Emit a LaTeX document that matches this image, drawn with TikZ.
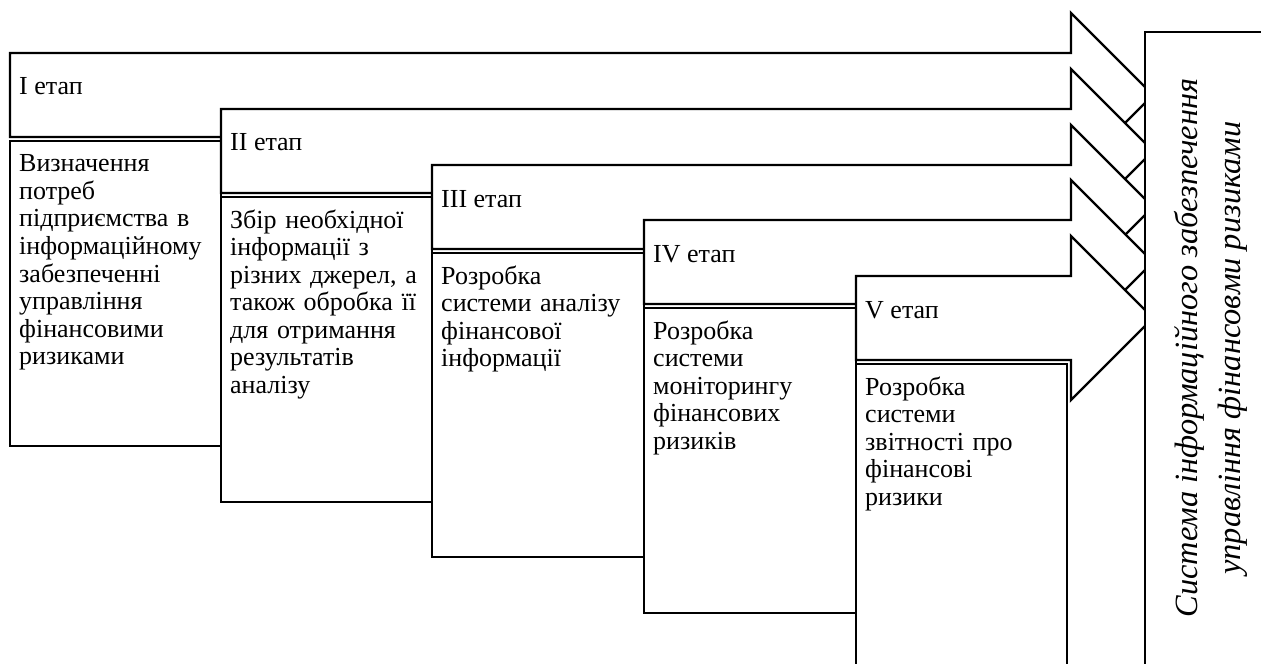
\documentclass[tikz,border=0pt]{standalone}
\usepackage{fontspec}
\setmainfont{Liberation Serif}
\begin{document}
\begin{tikzpicture}[x=0.5pt, y=-0.5pt, line width=1.2pt, line join=miter,
  every node/.style={inner sep=0pt, font=\fontsize{13}{13.75}\selectfont},
  stagearrow/.style={draw, fill=white},
  stagebox/.style={draw, fill=white},
  stagelabel/.style={anchor=base west},
  stagetext/.style={anchor=base west, text width=104pt, align=left}]
 \useasboundingbox (0,0) rectangle (1261,663);
 \clip (0,0) rectangle (1261,663);
 % I etap
 \draw[stagearrow] (10,53) -- (1071,53) -- (1071,13) -- (1153,95) -- (1071,177) -- (1071,137) -- (10,137) -- cycle;
 \draw[stagebox] (10,141) rectangle (221,446);
 \node[stagelabel] (l1) at (18,95) {I етап};
 \node[stagetext] (t1) at (18,172) {Визначення\\потреб\\підприємства в\\інформаційному\\забезпеченні\\управління\\фінансовими\\ризиками};
 % II etap
 \draw[stagearrow] (221,109) -- (1071,109) -- (1071,69) -- (1153,151) -- (1071,233) -- (1071,193) -- (221,193) -- cycle;
 \draw[stagebox] (221,197) rectangle (432,502);
 \node[stagelabel] (l2) at (229,151) {II етап};
 \node[stagetext] (t2) at (229,228) {Збір необхідної\\інформації з\\різних джерел, а\\також обробка її\\для отримання\\результатів\\аналізу};
 % III etap
 \draw[stagearrow] (432,165) -- (1071,165) -- (1071,125) -- (1153,207) -- (1071,289) -- (1071,249) -- (432,249) -- cycle;
 \draw[stagebox] (432,253) rectangle (644,557);
 \node[stagelabel] (l3) at (440,207) {III етап};
 \node[stagetext] (t3) at (440,284) {Розробка\\системи аналізу\\фінансової\\інформації};
 % IV etap
 \draw[stagearrow] (644,220) -- (1071,220) -- (1071,180) -- (1153,262) -- (1071,344) -- (1071,304) -- (644,304) -- cycle;
 \draw[stagebox] (644,308) rectangle (856,613);
 \node[stagelabel] (l4) at (652,262) {IV етап};
 \node[stagetext] (t4) at (652,339) {Розробка\\системи\\моніторингу\\фінансових\\ризиків};
 % V etap
 \draw[stagearrow] (856,276) -- (1071,276) -- (1071,236) -- (1153,318) -- (1071,400) -- (1071,360) -- (856,360) -- cycle;
 \draw[stagebox] (856,364) rectangle (1067,700);
 \node[stagelabel] (l5) at (864,318) {V етап};
 \node[stagetext] (t5) at (864,395) {Розробка\\системи\\звітності про\\фінансові\\ризики};
 % system box
 \draw[stagebox] (1145,32) rectangle (1320,720);
 \node[rotate=90, align=center, font=\fontsize{16.2}{21.5}\selectfont\itshape] (sys) at (1211,348) {Система інформаційного забезпечення\\управління фінансовми ризиками};
\end{tikzpicture}
\end{document}
